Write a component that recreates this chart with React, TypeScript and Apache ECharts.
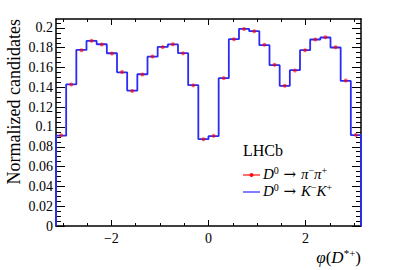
import React, { useEffect, useRef } from 'react';
import * as echarts from 'echarts';

const PI = Math.PI;
const N_BINS = 30;

// D0 -> K- K+ (blue histogram), one value per bin from -pi to pi
const kkValues = [
  0.0912, 0.143, 0.1778, 0.1869, 0.1835, 0.1744, 0.1552, 0.1367, 0.1532, 0.171,
  0.1808, 0.1833, 0.1745, 0.1422, 0.0877, 0.0908, 0.1493, 0.1886, 0.1991, 0.1967,
  0.1826, 0.1624, 0.1415, 0.1573, 0.1775, 0.1883, 0.1903, 0.1802, 0.1465, 0.0918,
];

// D0 -> pi- pi+ (red points)
const pipiValues = [
  0.0916, 0.1428, 0.1775, 0.1871, 0.1833, 0.1742, 0.1554, 0.1362, 0.1530, 0.1712,
  0.1806, 0.1835, 0.1743, 0.1420, 0.0875, 0.0910, 0.1493, 0.1886, 0.1990, 0.1966,
  0.1829, 0.1627, 0.1415, 0.1570, 0.1775, 0.1882, 0.1905, 0.1805, 0.1468, 0.0918,
];

const xMajorTicks = [-2, 0, 2];
const xMinorTicks = [-3, -2.5, -1.5, -1, -0.5, 0.5, 1, 1.5, 2.5, 3];
const yMajorTicks = [0, 0.02, 0.04, 0.06, 0.08, 0.1, 0.12, 0.14, 0.16, 0.18, 0.2];
const yMinorTicks = [
  0.005, 0.01, 0.015, 0.025, 0.03, 0.035, 0.045, 0.05, 0.055, 0.065, 0.07, 0.075,
  0.085, 0.09, 0.095, 0.105, 0.11, 0.115, 0.125, 0.13, 0.135, 0.145, 0.15, 0.155,
  0.165, 0.17, 0.175, 0.185, 0.19, 0.195, 0.205,
];

const Y_MAX = 0.209;
const FONT = '"Liberation Serif", "DejaVu Serif", serif';
const ARROW_FONT = '"DejaVu Serif", serif';

export default function App() {
  const ref = useRef<HTMLDivElement>(null);

  useEffect(() => {
    if (!ref.current) return;
    const chart = echarts.init(ref.current, undefined, { renderer: 'svg' });

    const binW = (2 * PI) / N_BINS;
    const stepData: number[][] = [[-PI, 0]];
    kkValues.forEach((v, i) => {
      stepData.push([-PI + i * binW, v]);
      stepData.push([-PI + (i + 1) * binW, v]);
    });
    stepData.push([PI, 0]);
    const pointData = pipiValues.map((v, i) => [-PI + (i + 0.5) * binW, v]);

    const lineBlack = { color: '#000', width: 1.5 };
    const tickBlack = { color: '#000', width: 1 };

    const xAxisBase = {
      type: 'value' as const,
      min: -PI,
      max: PI,
      splitLine: { show: false },
    };
    const yAxisBase = {
      type: 'value' as const,
      min: 0,
      max: Y_MAX,
      splitLine: { show: false },
    };

    const xFmt = (v: number) => (v < 0 ? '\u2212' + Math.abs(v) : String(v));
    const yFmt = (v: number) => String(+v.toFixed(3));

    const richLegend = {
      i: { fontFamily: FONT, fontSize: 15, fontStyle: 'italic', fill: '#000', lineHeight: 18 },
      n: { fontFamily: FONT, fontSize: 15, fill: '#000', lineHeight: 18 },
      a: { fontFamily: ARROW_FONT, fontSize: 15, fill: '#000', lineHeight: 18 },
      s: { fontFamily: FONT, fontSize: 10, fill: '#000', lineHeight: 10, verticalAlign: 'top' },
    };

    const option: any = {
      animation: false,
      grid: { left: 56, right: 38, top: 19, bottom: 44 },
      xAxis: [
        {
          ...xAxisBase,
          position: 'bottom',
          axisLine: { show: true, onZero: false, lineStyle: lineBlack },
          axisTick: { show: true, inside: true, length: 6, customValues: xMajorTicks, lineStyle: tickBlack },
          axisLabel: {
            show: true, customValues: xMajorTicks, formatter: xFmt,
            fontSize: 14, fontFamily: FONT, color: '#000', margin: 5,
          },
        },
        {
          ...xAxisBase,
          position: 'bottom',
          axisLine: { show: false, onZero: false },
          axisTick: { show: true, inside: true, length: 3, customValues: xMinorTicks, lineStyle: tickBlack },
          axisLabel: { show: false },
        },
        {
          ...xAxisBase,
          position: 'top',
          axisLine: { show: true, onZero: false, lineStyle: lineBlack },
          axisTick: { show: true, inside: true, length: 6, customValues: xMajorTicks, lineStyle: tickBlack },
          axisLabel: { show: false },
        },
        {
          ...xAxisBase,
          position: 'top',
          axisLine: { show: false, onZero: false },
          axisTick: { show: true, inside: true, length: 3, customValues: xMinorTicks, lineStyle: tickBlack },
          axisLabel: { show: false },
        },
      ],
      yAxis: [
        {
          ...yAxisBase,
          position: 'left',
          axisLine: { show: true, onZero: false, lineStyle: lineBlack },
          axisTick: { show: true, inside: true, length: 9, customValues: yMajorTicks, lineStyle: tickBlack },
          axisLabel: {
            show: true, customValues: yMajorTicks, formatter: yFmt,
            fontSize: 14, fontFamily: FONT, color: '#000', margin: 3,
          },
        },
        {
          ...yAxisBase,
          position: 'left',
          axisLine: { show: false, onZero: false },
          axisTick: { show: true, inside: true, length: 5, customValues: yMinorTicks, lineStyle: tickBlack },
          axisLabel: { show: false },
        },
        {
          ...yAxisBase,
          position: 'right',
          axisLine: { show: true, onZero: false, lineStyle: lineBlack },
          axisTick: { show: true, inside: true, length: 9, customValues: yMajorTicks, lineStyle: tickBlack },
          axisLabel: { show: false },
        },
        {
          ...yAxisBase,
          position: 'right',
          axisLine: { show: false, onZero: false },
          axisTick: { show: true, inside: true, length: 5, customValues: yMinorTicks, lineStyle: tickBlack },
          axisLabel: { show: false },
        },
      ],
      series: [
        {
          name: 'KK',
          type: 'line',
          xAxisIndex: 0,
          yAxisIndex: 0,
          data: stepData,
          showSymbol: false,
          symbol: 'none',
          clip: false,
          lineStyle: { color: '#2b2bf5', width: 1.8 },
          z: 3,
        },
        {
          name: 'pipi',
          type: 'scatter',
          xAxisIndex: 0,
          yAxisIndex: 0,
          data: pointData,
          symbol: 'circle',
          symbolSize: 4,
          itemStyle: { color: 'rgba(255,0,0,0.8)' },
          z: 4,
        },
      ],
      graphic: [
        {
          type: 'text',
          x: 14,
          y: 19,
          rotation: PI / 2,
          style: {
            text: 'Normalized candidates',
            font: `18px ${FONT}`,
            fill: '#000',
            align: 'right',
            verticalAlign: 'middle',
          },
        },
        {
          type: 'text',
          x: 361,
          y: 257,
          style: {
            text: '{i|\u03C6}{n|(}{i|D}{s|*+}{n|)}',
            align: 'right',
            verticalAlign: 'middle',
            rich: {
              i: { fontFamily: FONT, fontSize: 17, fontStyle: 'italic', fill: '#000', lineHeight: 20 },
              n: { fontFamily: FONT, fontSize: 17, fill: '#000', lineHeight: 20 },
              s: { fontFamily: FONT, fontSize: 11, fill: '#000', lineHeight: 11, verticalAlign: 'top' },
            },
          },
        },
        {
          type: 'text',
          x: 243,
          y: 150,
          style: {
            text: 'LHCb',
            font: `16px ${FONT}`,
            fill: '#000',
            align: 'left',
            verticalAlign: 'middle',
          },
        },
        {
          type: 'line',
          shape: { x1: 243, y1: 175, x2: 260, y2: 175 },
          style: { stroke: 'rgba(255,0,0,0.75)', lineWidth: 1.5 },
        },
        {
          type: 'circle',
          shape: { cx: 251.5, cy: 175, r: 2 },
          style: { fill: 'rgba(255,0,0,0.9)' },
        },
        {
          type: 'text',
          x: 263,
          y: 174,
          style: {
            text: '{i|D}{s|0}{a| \u2192 }{i|\u03C0}{s|\u2212}{i|\u03C0}{s|+}',
            align: 'left',
            verticalAlign: 'middle',
            rich: richLegend,
          },
        },
        {
          type: 'line',
          shape: { x1: 243, y1: 192, x2: 260, y2: 192 },
          style: { stroke: 'rgba(40,40,255,0.8)', lineWidth: 1.5 },
        },
        {
          type: 'text',
          x: 263,
          y: 191,
          style: {
            text: '{i|D}{s|0}{a| \u2192 }{i|K}{s|\u2212}{i|K}{s|+}',
            align: 'left',
            verticalAlign: 'middle',
            rich: richLegend,
          },
        },
      ],
    };

    chart.setOption(option);
    return () => chart.dispose();
  }, []);

  return (
    <div
      ref={ref}
      style={{ position: 'fixed', left: 0, top: 0, width: 399, height: 270, background: '#fff' }}
    />
  );
}
